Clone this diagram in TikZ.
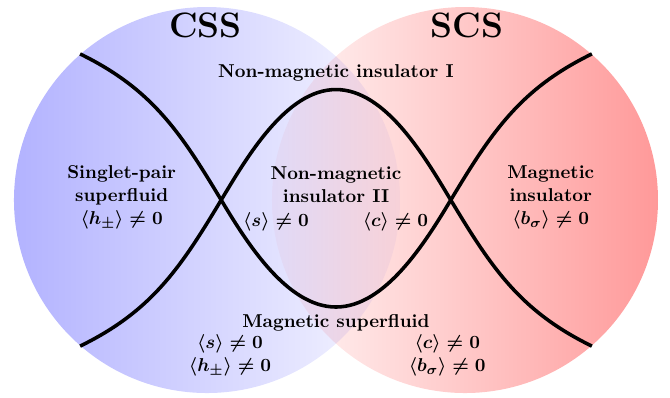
\documentclass[tikz,border=0pt,11pt]{standalone}
\usetikzlibrary{calc}
\begin{document}
\begin{tikzpicture}[every node/.style={font=\bfseries\boldmath,align=center},
                    bigname/.style={font=\huge\bfseries},
                    phaseline/.style={line width=2.1pt}]
                        \useasboundingbox (-6.946,-4.073) rectangle (6.905,4.135);
                        \shade[left color=blue!30,right color=blue!3] (-2.667,0) circle (3.99);
                        \shade[left color=red!3,right color=red!40,blend mode=multiply] (2.667,0) circle (3.99);
                        \coordinate (lt) at (-5.29,3.02);
                        \coordinate (lb) at (-5.29,-3.02);
                        \coordinate (rt) at (5.29,3.02);
                        \coordinate (rb) at (5.29,-3.02);
                        \coordinate (lx) at (-2.373,0);
                        \coordinate (rx) at (2.373,0);
                        \coordinate (top) at (0,2.284);
                        \coordinate (bot) at (0,-2.212);
                        \draw[phaseline] (lt) to[out=-26,in=121] (lx)
                            to[out=-59,in=180,looseness=0.8] (bot)
                            to[out=0,in=239,looseness=0.8] (rx) to[out=59,in=206] (rt);
                        \draw[phaseline] (lb) to[out=26,in=-121] (lx)
                            to[out=59,in=180,looseness=0.8] (top)
                            to[out=0,in=121,looseness=0.8] (rx) to[out=-59,in=154] (rb);
                        \node[bigname] (css) at (-2.70,3.60) {CSS};
                        \node[bigname] (scs) at (2.71,3.60) {SCS};
                        \node[anchor=base] (nmione) at (0,2.53) {Non-magnetic insulator I};
                        \node (sps) at (-4.43,0.06) {Singlet-pair\\superfluid\\$\langle h_\pm\rangle\neq0$};
                        \node (nmitwo) at (0,0.31) {Non-magnetic\\insulator II};
                        \node (magins) at (4.44,0.06) {Magnetic\\insulator\\$\langle b_\sigma\rangle\neq0$};
                        \node[anchor=base] (sval) at (-1.24,-0.54) {$\langle s\rangle\neq0$};
                        \node[anchor=base] (cval) at (1.23,-0.54) {$\langle c\rangle\neq0$};
                        \node[anchor=base] (msf) at (0,-2.64) {Magnetic superfluid};
                        \node (msfleft) at (-2.19,-3.22) {$\langle s\rangle\neq0$\\$\langle h_\pm\rangle\neq0$};
                        \node (msfright) at (2.30,-3.22) {$\langle c\rangle\neq0$\\$\langle b_\sigma\rangle\neq0$};
                    \end{tikzpicture}
\end{document}
